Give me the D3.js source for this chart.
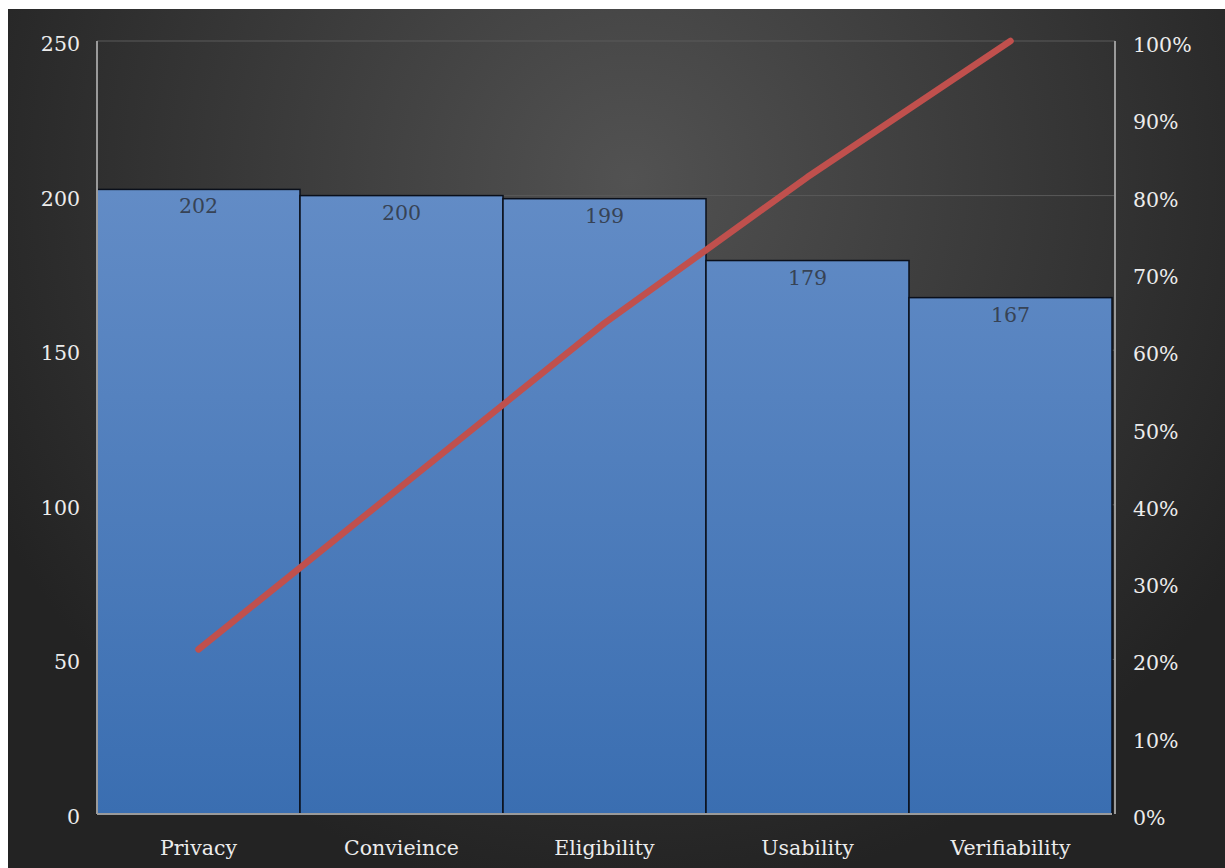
<!DOCTYPE html>
<html>
<head>
<meta charset="utf-8">
<script src="https://cdnjs.cloudflare.com/ajax/libs/d3/7.8.5/d3.min.js"></script>
<style>
  body { margin: 0; background: #fff; }
  svg text { font-family: "DejaVu Serif", serif; }
</style>
</head>
<body>
<div id="chart"></div>
<script>
// data
var categories = ["Privacy", "Convieince", "Eligibility", "Usability", "Verifiability"];
var counts = [202, 200, 199, 179, 167];
var cumPercent = [21.3, 42.4, 63.5, 82.4, 100];
var leftTicks = [0, 50, 100, 150, 200, 250];
var rightTicks = [0, 10, 20, 30, 40, 50, 60, 70, 80, 90, 100];

var W = 1225, H = 868;
var margin = {top: 41, left: 97, right: 110, bottom: 54};

var svg = d3.select("#chart").append("svg")
    .attr("width", W).attr("height", H);

var defs = svg.append("defs");

// dark background with a light spot near top middle
var bg = defs.append("radialGradient").attr("id", "bgGrad")
    .attr("gradientUnits", "userSpaceOnUse")
    .attr("cx", 630).attr("cy", 180).attr("r", 720);
bg.append("stop").attr("offset", "0%").attr("stop-color", "#525252");
bg.append("stop").attr("offset", "55%").attr("stop-color", "#383838");
bg.append("stop").attr("offset", "100%").attr("stop-color", "#232323");

var barGrad = defs.append("linearGradient").attr("id", "barGrad")
    .attr("gradientUnits", "userSpaceOnUse")
    .attr("x1", 0).attr("y1", margin.top).attr("x2", 0).attr("y2", H - margin.bottom);
barGrad.append("stop").attr("offset", "0%").attr("stop-color", "#6c93cb");
barGrad.append("stop").attr("offset", "100%").attr("stop-color", "#3a6eb1");

svg.append("rect")
    .attr("x", 8).attr("y", 9)
    .attr("width", W - 8).attr("height", H - 9)
    .attr("fill", "url(#bgGrad)");

var x = d3.scaleBand()
    .domain(categories)
    .range([margin.left, W - margin.right - 3])
    .padding(0);

var y = d3.scaleLinear()
    .domain([0, 250])
    .range([H - margin.bottom, margin.top]);

var yPct = d3.scaleLinear()
    .domain([0, 100])
    .range([H - margin.bottom, margin.top]);

// gridlines
svg.append("g")
    .selectAll("line")
    .data(leftTicks.slice(1))
    .enter().append("line")
    .attr("x1", margin.left).attr("x2", W - margin.right)
    .attr("y1", function(d) { return y(d); })
    .attr("y2", function(d) { return y(d); })
    .attr("stroke", "#5a5a5a")
    .attr("stroke-width", 1);

// bars
svg.append("g")
    .selectAll("rect")
    .data(counts)
    .enter().append("rect")
    .attr("x", function(d, i) { return x(categories[i]); })
    .attr("y", function(d) { return y(d); })
    .attr("width", x.bandwidth())
    .attr("height", function(d) { return y(0) - y(d); })
    .attr("fill", "url(#barGrad)")
    .attr("stroke", "#0a0f1a")
    .attr("stroke-width", 1.5);

// value labels
svg.append("g")
    .selectAll("text")
    .data(counts)
    .enter().append("text")
    .attr("x", function(d, i) { return x(categories[i]) + x.bandwidth() / 2; })
    .attr("y", function(d) { return y(d) + 24; })
    .attr("text-anchor", "middle")
    .attr("font-size", "20.5px")
    .attr("fill", "#374355")
    .text(function(d) { return d; });

// axes lines
var axisColor = "#9a9a9a";
svg.append("line")
    .attr("x1", margin.left).attr("x2", margin.left)
    .attr("y1", margin.top).attr("y2", y(0))
    .attr("stroke", axisColor).attr("stroke-width", 2);
svg.append("line")
    .attr("x1", W - margin.right).attr("x2", W - margin.right)
    .attr("y1", margin.top).attr("y2", y(0))
    .attr("stroke", axisColor).attr("stroke-width", 2);
svg.append("line")
    .attr("x1", margin.left).attr("x2", W - margin.right - 3)
    .attr("y1", y(0)).attr("y2", y(0))
    .attr("stroke", axisColor).attr("stroke-width", 2);

function styleTicks(g) {
    g.select(".domain").remove();
    g.selectAll("text")
        .attr("font-size", "20.5px")
        .attr("fill", "#ececec")
        .attr("font-family", "DejaVu Serif, serif");
}

// left axis
var leftAxis = svg.append("g")
    .attr("transform", "translate(" + (margin.left - 17) + ",3)")
    .call(d3.axisLeft(y).tickValues(leftTicks).tickSize(0).tickPadding(0));
styleTicks(leftAxis);

// right axis
var rightAxis = svg.append("g")
    .attr("transform", "translate(" + (W - margin.right + 18) + ",4)")
    .call(d3.axisRight(yPct).tickValues(rightTicks).tickSize(0).tickPadding(0)
        .tickFormat(function(d) { return d + "%"; }));
styleTicks(rightAxis);

// bottom axis
var bottomAxis = svg.append("g")
    .attr("transform", "translate(0," + (y(0) + 26) + ")")
    .call(d3.axisBottom(x).tickSize(0).tickPadding(0));
styleTicks(bottomAxis);

// cumulative line
var line = d3.line()
    .x(function(d, i) { return x(categories[i]) + x.bandwidth() / 2; })
    .y(function(d) { return yPct(d); });

svg.append("path")
    .datum(cumPercent)
    .attr("d", line)
    .attr("fill", "none")
    .attr("stroke", "#c0504d")
    .attr("stroke-width", 6.5)
    .attr("stroke-linecap", "round")
    .attr("stroke-linejoin", "round");
</script>
</body>
</html>
